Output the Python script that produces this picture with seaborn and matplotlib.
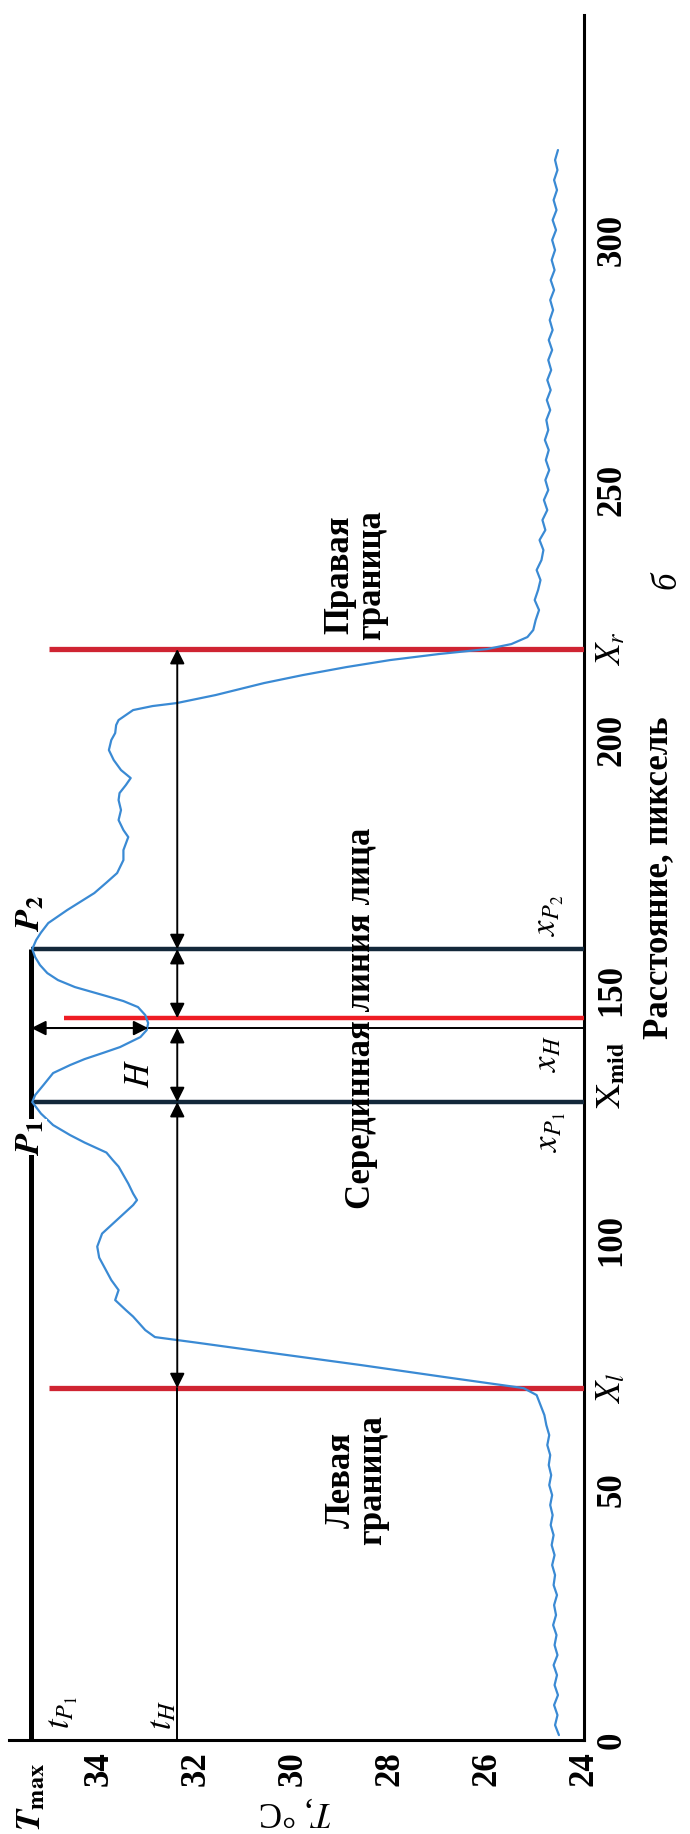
import numpy as np
import pandas as pd
import matplotlib
matplotlib.use("Agg")
import matplotlib.pyplot as plt
import seaborn as sns

# temperature profile along the face line (rotated figure: distance runs upward)
distance = [1, 3, 5, 7, 9, 11, 13, 15, 17, 19, 21, 23, 25, 27, 29, 31,
            33, 35, 37, 39, 41, 43, 45, 47, 49, 51, 53, 55, 57, 59, 61, 63,
            65, 67, 69, 70.4, 72.5, 75, 77.5, 79.5, 80.6, 82, 84.7, 86, 88, 90,
            92, 94.7, 96.5, 98.7, 101.3, 103, 105.3, 107, 108, 109.3, 111.3, 113,
            114.7, 116, 117.5, 119.5, 121, 123, 125.3, 127.6,
            129, 131, 133.4, 135, 136.2, 137.5, 138.6, 140.6, 142, 143.4, 145,
            146.6, 147.8, 148.8, 150.6, 152, 153.4, 155, 156.6, 158.2,
            160, 161.5, 163.4, 166, 169.4, 171.5, 173.4, 176, 178, 180.6, 182,
            184, 186, 188, 189.4, 191, 192.4, 194, 196, 198, 200, 201.4, 203,
            204, 205, 206, 206.8, 207.4, 209, 211.4, 213, 214.6, 216, 217.2,
            218.2, 219.2, 220.6, 222,
            224, 226, 228, 230, 232, 234, 236, 238, 240, 242, 244, 246, 248,
            250, 252, 254, 256, 258, 260, 262, 264, 266, 268, 270, 272, 274,
            276, 278, 280, 282, 284, 286, 288, 290, 292, 294, 296, 298, 300,
            302, 304, 306, 308, 310, 312, 314, 316, 318]
temperature = [24.52, 24.60, 24.55, 24.62, 24.54, 24.61, 24.56, 24.63, 24.55, 24.61,
               24.57, 24.64, 24.58, 24.62, 24.56, 24.63, 24.60, 24.66, 24.61, 24.67,
               24.63, 24.69, 24.65, 24.70, 24.66, 24.72, 24.68, 24.73, 24.70, 24.76,
               24.72, 24.78,
               24.82, 24.90, 24.98, 25.25, 26.8, 28.6, 30.5, 32.0, 32.85, 33.05, 33.3,
               33.45, 33.67, 33.6, 33.75, 33.9, 34.0, 34.04, 33.94, 33.75, 33.49, 33.3,
               33.22, 33.3, 33.4, 33.5, 33.6, 33.72, 33.85, 34.3, 34.6, 34.95, 35.2, 35.38,
               35.32, 35.15, 34.95, 34.6, 34.3, 33.9, 33.57, 33.15, 33.02, 32.99, 33.05,
               33.2, 33.5, 33.85, 34.5, 34.85, 35.07, 35.22, 35.32, 35.38,
               35.3, 35.2, 35.05, 34.66, 34.1, 33.85, 33.63, 33.5, 33.5, 33.4, 33.5,
               33.6, 33.55, 33.6, 33.58, 33.45, 33.35, 33.55, 33.7, 33.8, 33.75, 33.67,
               33.65, 33.6, 33.45, 33.3, 32.9, 32.4, 31.6, 30.6, 29.8, 28.9, 28.0, 27.0,
               26.0, 25.5, 25.17, 25.05,
               25.00, 24.93, 25.02, 24.95, 24.90, 24.98, 24.88, 24.84, 24.92, 24.80,
               24.86, 24.76, 24.83, 24.74, 24.80, 24.72, 24.79, 24.73, 24.81, 24.74,
               24.78, 24.70, 24.77, 24.69, 24.76, 24.68, 24.74, 24.66, 24.73, 24.65,
               24.71, 24.64, 24.70, 24.62, 24.69, 24.61, 24.67, 24.60, 24.66, 24.58,
               24.65, 24.57, 24.63, 24.56, 24.62, 24.55, 24.60, 24.54]

t_ticks = [24, 26, 28, 30, 32, 34]
d_ticks = [0, 50, 100, 150, 200, 250, 300]

# marker positions
T_max = 35.4
t_H = 32.39
t_min = 32.99
X_l, x_P1, X_mid, x_H, x_P2, X_r = 70.4, 127.6, 142.4, 144.4, 158.2, 218.2

df = pd.DataFrame({"distance": distance, "T": temperature})

sns.set_theme(style="white")
plt.rcParams["font.family"] = ["Liberation Serif", "DejaVu Serif"]
plt.rcParams["mathtext.fontset"] = "stix"

fig = plt.figure(figsize=(6.9, 18.34), dpi=100)
ax = fig.add_axes([0.013, 0.0512, 0.8336, 0.9406])

sns.lineplot(data=df, x="T", y="distance", orient="y", estimator=None,
             color="#3a8ad4", lw=1.6, ax=ax, zorder=4)

# boundary / reference lines (horizontal in this rotated view)
ax.plot([35.03, 24], [X_l, X_l], color="#cf2432", lw=3.8, zorder=3, solid_capstyle="butt")
ax.plot([35.03, 24], [X_r, X_r], color="#cf2432", lw=3.8, zorder=3, solid_capstyle="butt")
ax.plot([34.72, 24], [x_H, x_H], color="#ee1c24", lw=3.2, zorder=3, solid_capstyle="butt")
ax.plot([T_max, 24], [x_P1, x_P1], color="#13283a", lw=3.2, zorder=3, solid_capstyle="butt")
ax.plot([T_max, 24], [x_P2, x_P2], color="#13283a", lw=3.2, zorder=3, solid_capstyle="butt")
ax.plot([T_max, 24], [X_mid, X_mid], color="black", lw=1.4, zorder=3)
ax.plot([T_max, T_max], [0, x_P2], color="black", lw=3.6, zorder=3, solid_capstyle="butt")
ax.plot([t_H, t_H], [0, X_l], color="black", lw=1.4, zorder=3)

arrow = dict(arrowstyle="<|-|>", color="black", lw=1.4, mutation_scale=22,
             shrinkA=0, shrinkB=0)
for a, b in [(X_l, x_P1), (x_P1, X_mid), (x_H, x_P2), (x_P2, X_r)]:
    ax.annotate("", xy=(t_H, a), xytext=(t_H, b), arrowprops=arrow, zorder=5)
ax.annotate("", xy=(T_max, X_mid), xytext=(t_min, X_mid), arrowprops=arrow, zorder=5)

ax.set_xlim(35.86, 24)
ax.set_ylim(0, 345)
ax.yaxis.tick_right()
ax.yaxis.set_label_position("right")
sns.despine(ax=ax, left=True, top=True, right=False, bottom=False)
for s in ["bottom", "right"]:
    ax.spines[s].set_linewidth(2.2)
    ax.spines[s].set_color("black")

ax.set_xticks(t_ticks)
ax.set_yticks(d_ticks)
ax.tick_params(axis="both", direction="in", length=12, width=1.8, pad=8,
               labelsize=25, colors="black")
for lbl in ax.get_xticklabels():
    lbl.set_rotation(90)
    lbl.set_fontweight("bold")
for lbl in ax.get_yticklabels():
    lbl.set_rotation(90)
    lbl.set_va("center")
    lbl.set_fontweight("bold")

ax.set_xlabel("$T$, °C", rotation=180, fontsize=25, labelpad=6, color="black")
ax.set_ylabel("Расстояние, пиксель", fontsize=25, fontweight="bold",
              labelpad=10, color="black")

txt = dict(rotation=90, ha="center", va="center", color="black", zorder=6)
ax.text(T_max, -11.4, r"$\mathbfit{T}_{\mathbf{max}}$", fontsize=25, clip_on=False, **txt)
ax.text(34.74, 5.6, r"$t_{P_1}$", fontsize=25, **txt)
ax.text(32.7, 5.0, r"$t_H$", fontsize=25, **txt)
ax.text(35.42, 120.6, r"$\mathbfit{P}_{\mathbf{1}}$", fontsize=25,
        bbox=dict(facecolor="white", edgecolor="none", pad=0), **txt)
ax.text(35.42, 165.5, r"$\mathbfit{P}_{\mathbf{2}}$", fontsize=25, **txt)
ax.text(33.15, 133.4, r"$H$", fontsize=25, **txt)
ax.text(24.68, 121.6, r"$x_{P_1}$", fontsize=25, **txt)
ax.text(24.76, 137.4, r"$x_H$", fontsize=25, **txt)
ax.text(24.72, 165.0, r"$x_{P_2}$", fontsize=25, **txt)
ax.text(23.44, 133.0, r"$\mathrm{X}_{\mathbf{mid}}$", fontsize=25, clip_on=False, **txt)
ax.text(23.44, X_l, r"$X_l$", fontsize=25, clip_on=False, **txt)
ax.text(23.44, X_r, r"$X_r$", fontsize=25, clip_on=False, **txt)
ax.text(22.3, 232, "б", fontsize=25, style="italic", clip_on=False, **txt)
ax.text(28.6, 144.3, "Серединная линия лица", fontsize=25, fontweight="bold", **txt)
ax.text(28.68, 52, "Левая\nграница", fontsize=25, fontweight="bold",
        multialignment="center", linespacing=0.95, **txt)
ax.text(28.7, 233, "Правая\nграница", fontsize=25, fontweight="bold",
        multialignment="center", linespacing=0.95, **txt)

fig.savefig("out.png", dpi=100, facecolor="white")
